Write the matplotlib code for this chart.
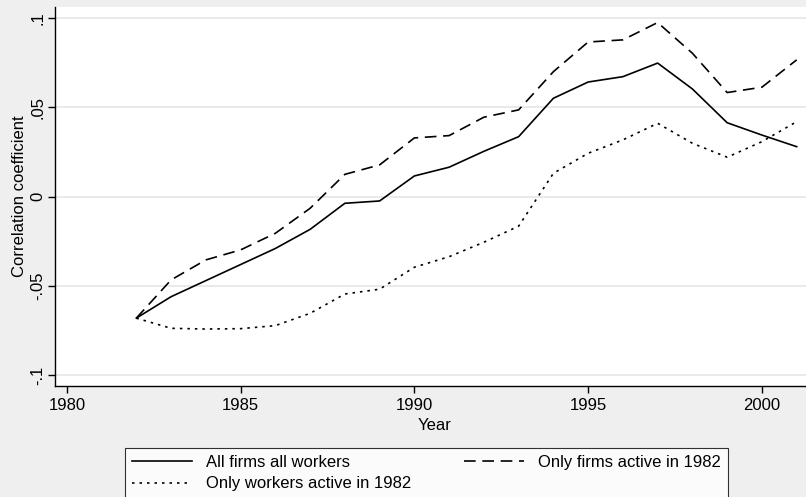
import matplotlib
matplotlib.use("Agg")
import matplotlib.pyplot as plt

years = list(range(1982, 2002))
all_firms_all_workers = [-0.068, -0.056, -0.047, -0.038, -0.029, -0.0183, -0.0037, -0.0024,
                         0.0116, 0.0165, 0.0254, 0.0336, 0.0551, 0.0642, 0.0672, 0.0748,
                         0.0603, 0.0414, 0.0345, 0.028]
only_firms_1982 = [-0.068, -0.0466, -0.0354, -0.0298, -0.0205, -0.0065, 0.0125, 0.0178,
                   0.0329, 0.0342, 0.0445, 0.0486, 0.070, 0.0866, 0.0878, 0.0975,
                   0.0803, 0.0583, 0.0613, 0.0766]
only_workers_1982 = [-0.068, -0.0737, -0.0741, -0.0739, -0.0722, -0.0653, -0.0545, -0.0518,
                     -0.0395, -0.0336, -0.0255, -0.0165, 0.0131, 0.0243, 0.0318, 0.0411,
                     0.0299, 0.0221, 0.0308, 0.042]
xticks = [1980, 1985, 1990, 1995, 2000]
yticks = [-0.1, -0.05, 0, 0.05, 0.1]
ytick_labels = ["-.1", "-.05", "0", ".05", ".1"]
labels = ["All firms all workers", "Only firms active in 1982", "Only workers active in 1982"]

plt.rcParams['font.family'] = ['Liberation Sans', 'DejaVu Sans']
FS = 12
W, H = 806, 497
fig = plt.figure(figsize=(W / 100, H / 100), dpi=100)
fig.patch.set_facecolor('#efefef')
ax = fig.add_axes([55 / W, 1 - 386 / H, (W - 55) / W + 0.01, (386 - 7) / H])
ax.set_facecolor('white')

l1, = ax.plot(years, all_firms_all_workers, color='black', lw=1.2, linestyle='-')
l2, = ax.plot(years, only_firms_1982, color='black', lw=1.2, linestyle=(0, (7, 4)))
l3, = ax.plot(years, only_workers_1982, color='black', lw=1.2, linestyle=(0, (1.5, 3)))

ax.set_xlim(1979.66, 2001.5)
ax.set_ylim(-0.106, 0.1062)
ax.set_xticks(xticks)
ax.set_yticks(yticks)
ax.set_yticklabels(ytick_labels, rotation=90, va='center')
ax.tick_params(axis='x', direction='out', length=5, width=1, labelsize=FS, color='black', pad=4)
ax.tick_params(axis='y', direction='out', length=5, width=1, labelsize=FS, color='black', pad=2)
ax.grid(axis='y', color='#e8e8e8', lw=1.3)
ax.set_axisbelow(True)
for s in ['top', 'right']:
    ax.spines[s].set_visible(False)
for s in ['left', 'bottom']:
    ax.spines[s].set_linewidth(1.0)
    ax.spines[s].set_color('black')

ax.set_xlabel('Year', fontsize=FS, labelpad=3)
ax.set_ylabel('Correlation coefficient', fontsize=FS, labelpad=2)

# order so that rows read: [All firms, Only firms] / [Only workers]
leg = fig.legend([l1, l3, l2], [labels[0], labels[2], labels[1]], ncol=2,
                 loc='upper left', bbox_to_anchor=(125 / W, 1 - 448 / H, 603 / W, 0),
                 mode='expand', frameon=True, fancybox=False, edgecolor='black',
                 facecolor='white', fontsize=FS, handlelength=3.6, handletextpad=0.85,
                 labelspacing=0.4, borderpad=0.4, borderaxespad=0)
leg.get_frame().set_linewidth(0.8)

fig.savefig('out.png', dpi=100, facecolor=fig.get_facecolor())
